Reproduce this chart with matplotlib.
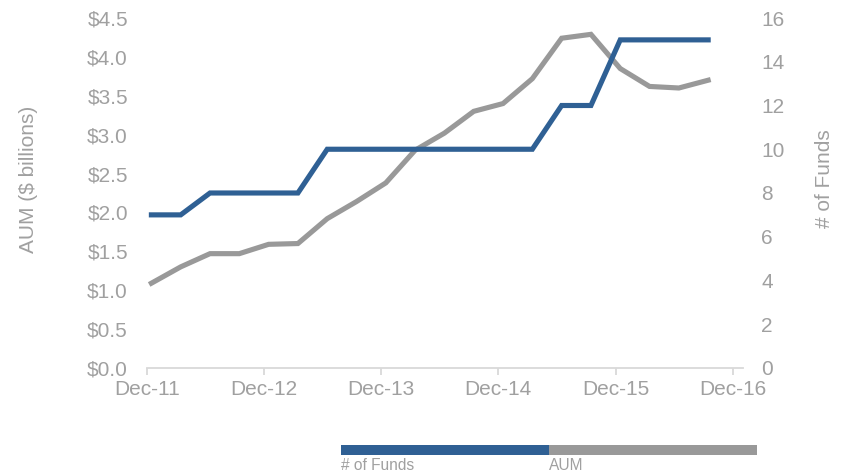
import matplotlib
matplotlib.use('Agg')
import matplotlib.pyplot as plt
from matplotlib.patches import Rectangle
from matplotlib.ticker import FuncFormatter, MultipleLocator

plt.rcParams['font.family'] = ['Liberation Sans', 'DejaVu Sans']

# 資料 (季度, 從 Dec-11 到 Sep-16)
quarters = ['Dec-11', 'Mar-12', 'Jun-12', 'Sep-12', 'Dec-12', 'Mar-13', 'Jun-13',
            'Sep-13', 'Dec-13', 'Mar-14', 'Jun-14', 'Sep-14', 'Dec-14', 'Mar-15',
            'Jun-15', 'Sep-15', 'Dec-15', 'Mar-16', 'Jun-16', 'Sep-16']
num_funds = [7, 7, 8, 8, 8, 8, 10, 10, 10, 10, 10, 10, 10, 10, 12, 12, 15, 15, 15, 15]
aum = [1.09, 1.30, 1.47, 1.47, 1.59, 1.60, 1.92, 2.14, 2.38, 2.80, 3.02, 3.30,
       3.40, 3.72, 4.24, 4.29, 3.85, 3.62, 3.60, 3.70]
year_labels = ['Dec-11', 'Dec-12', 'Dec-13', 'Dec-14', 'Dec-15', 'Dec-16']
series_names = ['# of Funds', 'AUM']
series_colors = ['#2F6094', '#999999']

text_gray = '#A0A0A0'
axis_gray = '#D9D9D9'
fs = 15

# quarter-end positions in years since the Dec-11 tick
xs = [0.04 + 0.25 * i for i in range(len(quarters))]

fig = plt.figure(figsize=(8.5, 4.75), dpi=100)
ax = fig.add_axes([0.1726, 0.2253, 0.7012, 0.7368])
ax2 = ax.twinx()

ax.plot(xs, aum, color=series_colors[1], lw=3.7, solid_joinstyle='miter', zorder=2)
ax2.plot(xs, num_funds, color=series_colors[0], lw=3.7, solid_joinstyle='miter', zorder=3)

ax.set_xlim(0, 5.085)
ax.set_ylim(0, 4.5)
ax2.set_ylim(0, 16)
ax.set_xticks(range(len(year_labels)))
ax.set_xticklabels(year_labels)
ax.yaxis.set_major_locator(MultipleLocator(0.5))
ax.yaxis.set_major_formatter(FuncFormatter(lambda v, p: f'${v:.1f}'))
ax2.yaxis.set_major_locator(MultipleLocator(2))

for a in (ax, ax2):
    for s in a.spines.values():
        s.set_visible(False)
    a.tick_params(axis='y', length=0, pad=13.5, labelsize=fs, labelcolor=text_gray)
ax.spines['bottom'].set_visible(True)
ax.spines['bottom'].set_color(axis_gray)
ax.spines['bottom'].set_linewidth(1.3)
ax.tick_params(axis='x', length=5, width=1.3, color=axis_gray, pad=4,
               labelsize=fs, labelcolor=text_gray)

fig.text(29 / 850, 1 - 179 / 475, 'AUM ($ billions)', rotation=90, ha='center', va='center',
         fontsize=fs, color=text_gray)
fig.text(824 / 850, 1 - 179 / 475, '# of Funds', rotation=90, ha='center', va='center',
         fontsize=fs, color=text_gray)

# 圖例 (底部色條)
leg_x0, leg_w, leg_y, leg_h = 341 / 850, 208 / 850, 1 - 455 / 475, 10 / 475
for i, (name, col) in enumerate(zip(series_names, series_colors)):
    x0 = leg_x0 + i * leg_w
    fig.patches.append(Rectangle((x0, leg_y), leg_w, leg_h, transform=fig.transFigure,
                                 facecolor=col, edgecolor='none'))
    fig.text(x0, leg_y - 3 / 475, name, ha='left', va='top', fontsize=11.2, color=text_gray)

fig.savefig('out.png', dpi=100)
